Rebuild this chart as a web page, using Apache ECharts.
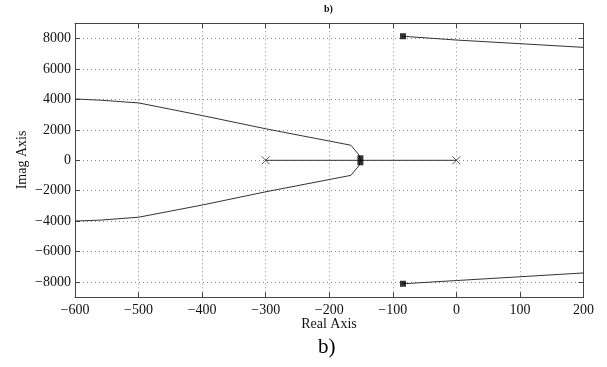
<!DOCTYPE html>
<html><head><meta charset="utf-8">
<script src="https://cdn.jsdelivr.net/npm/echarts@6/dist/echarts.min.js"></script>
<style>html,body{margin:0;padding:0;background:#fff}#c{width:607px;height:367px}</style>
</head><body><div id="c"></div>
<script>
// Root locus branches (real, imag)
const branchUpperLeftRe = [-151, -153, -166, -300, -400, -500, -560, -600];
const branchUpperLeftIm = [0, 340, 990, 2070, 2940, 3770, 3950, 4030];
const branchLowerLeftRe = [-151, -153, -166, -300, -400, -500, -560, -600];
const branchLowerLeftIm = [0, -340, -990, -2070, -2940, -3740, -3930, -3990];
const branchRealRe = [-300, 0];
const branchRealIm = [0, 0];
const branchUpperRightRe = [-84, 0, 100, 200];
const branchUpperRightIm = [8150, 7900, 7660, 7420];
const branchLowerRightRe = [-84, 0, 100, 200];
const branchLowerRightIm = [-8110, -7900, -7650, -7400];
// open-loop poles (x) and closed-loop poles (squares)
const openPolesRe = [-300, 0];
const openPolesIm = [0, 0];
const closedPolesRe = [-84, -84];
const closedPolesIm = [8150, -8110];
const realClosedPoleRe = [-151];
const realClosedPoleIm = [0];
const xTicks = [-600, -500, -400, -300, -200, -100, 0, 100, 200];
const yTicks = [-8000, -6000, -4000, -2000, 0, 2000, 4000, 6000, 8000];

const zip = (a, b) => a.map((v, i) => [v, b[i]]);
const fmt = v => String(v).replace('-', '\u2212');
const serif = 'Liberation Serif';
const ink = '#111';

const chart = echarts.init(document.getElementById('c'), null, {renderer: 'canvas'});
const lineS = (re, im) => ({
  type: 'line', data: zip(re, im), showSymbol: false, symbol: 'none',
  lineStyle: {color: '#333', width: 1}, animation: false, z: 3
});
const gridStyle = {color: '#888', type: [1, 3], width: 1};
chart.setOption({
  animation: false,
  grid: {left: 75, right: 23.5, top: 23.3, bottom: 69.7, containLabel: false},
  xAxis: [{
    type: 'value', min: xTicks[0], max: xTicks[xTicks.length - 1], interval: 100,
    axisLine: {onZero: false, lineStyle: {color: '#444', width: 1}},
    axisTick: {inside: true, length: 5, lineStyle: {color: '#444'}},
    axisLabel: {formatter: fmt, fontFamily: serif, fontSize: 14, color: ink, margin: 6},
    splitLine: {show: true, lineStyle: gridStyle}
  }, {
    type: 'value', position: 'top', min: xTicks[0], max: xTicks[xTicks.length - 1], interval: 100,
    axisLine: {onZero: false, lineStyle: {color: '#444', width: 1}},
    axisTick: {inside: true, length: 5, lineStyle: {color: '#444'}},
    axisLabel: {show: false}, splitLine: {show: false}
  }],
  yAxis: [{
    type: 'value', min: -9000, max: 9000,
    axisLine: {onZero: false, lineStyle: {color: '#444', width: 1}},
    axisTick: {inside: true, length: 5, customValues: yTicks, lineStyle: {color: '#444'}},
    axisLabel: {customValues: yTicks, formatter: fmt, fontFamily: serif, fontSize: 14, color: ink, margin: 4},
    splitLine: {show: true, lineStyle: gridStyle}
  }, {
    type: 'value', position: 'right', min: -9000, max: 9000,
    axisLine: {onZero: false, lineStyle: {color: '#444', width: 1}},
    axisTick: {inside: true, length: 5, customValues: yTicks, lineStyle: {color: '#444'}},
    axisLabel: {show: false, customValues: yTicks}, splitLine: {show: false}
  }],
  series: [
    lineS(branchUpperLeftRe, branchUpperLeftIm),
    lineS(branchLowerLeftRe, branchLowerLeftIm),
    lineS(branchRealRe, branchRealIm),
    lineS(branchUpperRightRe, branchUpperRightIm),
    lineS(branchLowerRightRe, branchLowerRightIm),
    {type: 'scatter', data: zip(openPolesRe, openPolesIm), symbol: 'path://M0,0L10,10M10,0L0,10',
      symbolSize: 8, itemStyle: {color: 'none', borderColor: '#333', borderWidth: 1}, z: 4},
    {type: 'scatter', data: zip(closedPolesRe, closedPolesIm), symbol: 'rect', symbolSize: 6,
      itemStyle: {color: '#000'}, z: 5},
    {type: 'scatter', data: zip(realClosedPoleRe, realClosedPoleIm), symbol: 'rect', symbolSize: [6, 10],
      itemStyle: {color: '#000'}, z: 5}
  ],
  graphic: [
    {type: 'text', left: 324, top: 4, style: {text: 'b)', font: 'bold 10px "Liberation Serif"', fill: ink}},
    {type: 'text', x: 329, y: 324, style: {text: 'Real Axis', font: '14px "Liberation Serif"', fill: ink, align: 'center', verticalAlign: 'middle'}},
    {type: 'text', x: 22, y: 160, rotation: Math.PI / 2, style: {text: 'Imag Axis', font: '14px "Liberation Serif"', fill: ink, align: 'center', verticalAlign: 'middle'}},
    {type: 'text', left: 318, top: 337, style: {text: 'b)', font: '21px "Liberation Serif"', fill: '#000'}}
  ]
});
</script></body></html>
